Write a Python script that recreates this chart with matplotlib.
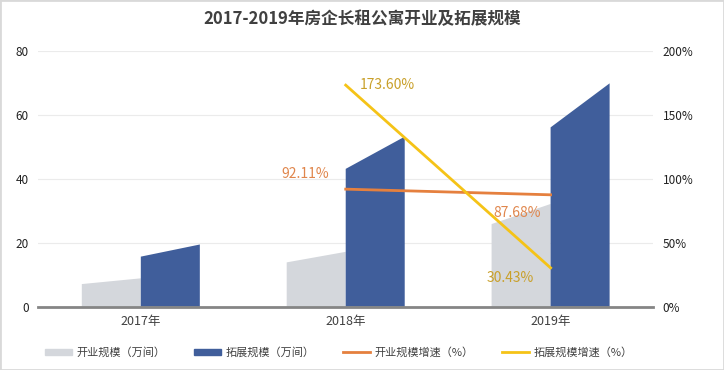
import matplotlib
matplotlib.use("Agg")
import matplotlib.pyplot as plt
from matplotlib.patches import Patch, Rectangle
from matplotlib.lines import Line2D
from matplotlib.ticker import FuncFormatter

plt.rcParams['font.family'] = ['Noto Sans CJK SC', 'DejaVu Sans']

# data
years = ['2017年', '2018年', '2019年']
open_left = [7.1, 13.9, 25.9]      # 开业规模 bar, left edge height
open_right = [8.9, 17.2, 32.2]     # 开业规模 bar, right edge height
expand_left = [15.7, 43.2, 56.2]   # 拓展规模 bar, left edge height
expand_right = [19.5, 53.3, 70.0]  # 拓展规模 bar, right edge height
growth_years = [1, 2]
open_growth = [92.11, 87.68]
expand_growth = [173.60, 30.43]

gray = '#D4D7DC'
blue = '#405E9B'
orange = '#E5803E'
yellow = '#F5C317'

fig = plt.figure(figsize=(7.24, 3.70), dpi=100)
ax = fig.add_axes([0.053, 0.171, 0.849, 0.690])
ax2 = ax.twinx()

w = 0.288
for i in range(len(years)):
    ax.fill([i - w, i - w, i, i], [0, open_left[i], open_right[i], 0],
            color=gray, lw=0, zorder=2)
    ax.fill([i, i, i + w, i + w], [0, expand_left[i], expand_right[i], 0],
            color=blue, lw=0, zorder=3)

ax.set_xlim(-0.5, 2.5)
ax.set_ylim(0, 80)
ax.set_yticks([0, 20, 40, 60, 80])
ax.set_xticks(range(len(years)))
ax.set_xticklabels(years, fontsize=9, color='#404040')
ax.tick_params(axis='y', length=0, pad=7, labelsize=8.5, labelcolor='#222222')
ax.tick_params(axis='x', length=0, pad=6)
ax.grid(axis='y', color='#EBEBEB', lw=0.8, zorder=0)
ax.set_axisbelow(True)
for s in ['top', 'right', 'left']:
    ax.spines[s].set_visible(False)
ax.spines['bottom'].set_color('#858585')
ax.spines['bottom'].set_linewidth(2)
ax.spines['bottom'].set_zorder(5)

ax2.plot(growth_years, open_growth, color=orange, lw=2, zorder=4)
ax2.plot(growth_years, expand_growth, color=yellow, lw=2, zorder=4)
ax2.set_ylim(0, 200)
ax2.set_yticks([0, 50, 100, 150, 200])
ax2.yaxis.set_major_formatter(FuncFormatter(lambda v, p: '%d%%' % v))
ax2.tick_params(axis='y', length=0, pad=7, labelsize=8.5, labelcolor='#222222')
for s in ['top', 'right', 'left', 'bottom']:
    ax2.spines[s].set_visible(False)

lab_orange = '#E0864C'
lab_yellow = '#C9A02A'
ax2.annotate('%.2f%%' % open_growth[0], (growth_years[0], open_growth[0]),
             xytext=(-12, 11), textcoords='offset points', ha='right', va='center',
             fontsize=10, color=lab_orange)
ax2.annotate('%.2f%%' % open_growth[1], (growth_years[1], open_growth[1]),
             xytext=(-7, -13), textcoords='offset points', ha='right', va='center',
             fontsize=10, color=lab_orange)
ax2.annotate('%.2f%%' % expand_growth[0], (growth_years[0], expand_growth[0]),
             xytext=(10, 0), textcoords='offset points', ha='left', va='center',
             fontsize=10, color=lab_yellow)
ax2.annotate('%.2f%%' % expand_growth[1], (growth_years[1], expand_growth[1]),
             xytext=(-12, -7), textcoords='offset points', ha='right', va='center',
             fontsize=10, color=lab_yellow)

fig.text(0.5, 0.948, '2017-2019年房企长租公寓开业及拓展规模', ha='center', va='center',
         fontsize=12, fontweight='bold', color='#404040')

handles = [Patch(color=gray), Patch(color=blue),
           Line2D([], [], color=orange, lw=2), Line2D([], [], color=yellow, lw=2)]
labels = ['开业规模（万间）', '拓展规模（万间）', '开业规模增速（%）', '拓展规模增速（%）']
fig.legend(handles, labels, loc='center', bbox_to_anchor=(0.468, 0.048), ncol=4,
           frameon=False, fontsize=8, handlelength=2.4, handleheight=0.45,
           columnspacing=2.6, handletextpad=0.4, labelcolor='#404040')

fig.patches.append(Rectangle((0, 0), 1, 1, transform=fig.transFigure, fill=False,
                             edgecolor='#D9D9D9', lw=2))

fig.savefig('out.png', dpi=100)
